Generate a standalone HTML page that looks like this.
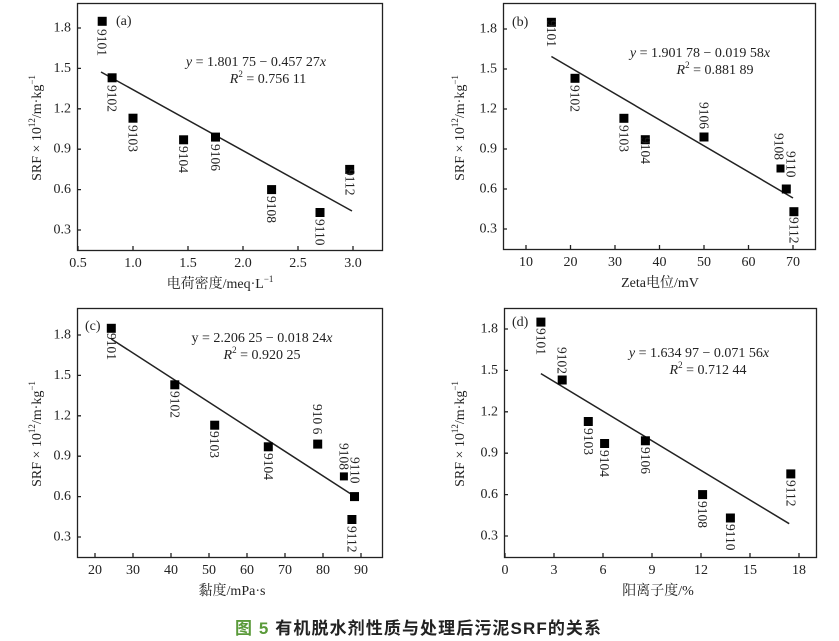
<!DOCTYPE html>
<html><head><meta charset="utf-8"><style>
html,body{margin:0;padding:0;background:#fff;width:839px;height:641px;overflow:hidden}
svg{display:block}
text{font-family:"Liberation Serif","Noto Serif CJK SC",serif;fill:#222}
.t{font-size:14px}
.l{font-size:13.5px}
.e{font-size:14px}
.ax{font-size:14px}
</style></head><body>
<svg width="839" height="641" viewBox="0 0 839 641" xmlns="http://www.w3.org/2000/svg">
<g stroke="#222" fill="none" stroke-width="1.3">
<rect x="77.5" y="3.5" width="305" height="247"/>
<rect x="503.5" y="3.5" width="312" height="246"/>
<rect x="77.5" y="308.5" width="305" height="249"/>
<rect x="504.5" y="308.5" width="312" height="249"/>
<path d="M78 250v-4M133 250v-4M188 250v-4M243 250v-4M298 250v-4M353 250v-4M77 28h4M77 68.4h4M77 108.8h4M77 149.2h4M77 189.6h4M77 230h4"/>
<path d="M526 249v-4M570.5 249v-4M615 249v-4M659.5 249v-4M704 249v-4M748.5 249v-4M793 249v-4M503 29h4M503 69h4M503 109h4M503 149h4M503 189h4M503 229h4"/>
<path d="M95 557v-4M133 557v-4M171 557v-4M209 557v-4M247 557v-4M285 557v-4M323 557v-4M361 557v-4M77 335h4M77 375.4h4M77 415.8h4M77 456.2h4M77 496.6h4M77 537h4"/>
<path d="M505 557v-4M554 557v-4M603 557v-4M652 557v-4M701 557v-4M750 557v-4M799 557v-4M504 329h4M504 370.4h4M504 411.8h4M504 453.2h4M504 494.6h4M504 536h4"/>
<path d="M101 72L352 211" stroke-width="1.5"/>
<path d="M551.4 56.5L793 198" stroke-width="1.5"/>
<path d="M111.3 339L354 496" stroke-width="1.5"/>
<path d="M540.9 373.6L789.2 523.7" stroke-width="1.5"/>
</g>
<g fill="#000">
<rect x="97.7" y="16.8" width="9" height="9"/><rect x="107.6" y="73.3" width="9" height="9"/><rect x="128.5" y="113.7" width="9" height="9"/><rect x="179.1" y="135.3" width="9" height="9"/><rect x="211" y="132.6" width="9" height="9"/><rect x="267.1" y="185.1" width="9" height="9"/><rect x="315.5" y="208" width="9" height="9"/><rect x="345.2" y="164.9" width="9" height="9"/>
<rect x="546.9" y="17.8" width="9" height="9"/><rect x="570.5" y="73.8" width="9" height="9"/><rect x="619.4" y="113.8" width="9" height="9"/><rect x="640.8" y="135.2" width="9" height="9"/><rect x="699.5" y="132.5" width="9" height="9"/><rect x="776.5" y="164.5" width="8" height="8"/><rect x="781.8" y="184.5" width="9" height="9"/><rect x="789.4" y="207.2" width="9" height="9"/>
<rect x="106.8" y="323.8" width="9" height="9"/><rect x="170.3" y="380.3" width="9" height="9"/><rect x="210.2" y="420.7" width="9" height="9"/><rect x="263.8" y="442.3" width="9" height="9"/><rect x="313.2" y="439.6" width="9" height="9"/><rect x="339.9" y="472.4" width="8" height="8"/><rect x="350" y="492.1" width="9" height="9"/><rect x="347.4" y="515" width="9" height="9"/>
<rect x="536.4" y="317.6" width="9" height="9"/><rect x="557.7" y="375.5" width="9" height="9"/><rect x="583.8" y="417" width="9" height="9"/><rect x="600.1" y="439" width="9" height="9"/><rect x="640.9" y="436.3" width="9" height="9"/><rect x="698.1" y="490.1" width="9" height="9"/><rect x="725.9" y="513.5" width="9" height="9"/><rect x="786.3" y="469.4" width="9" height="9"/>
</g>
<g class="l" dominant-baseline="central">
<text transform="translate(102,29) rotate(90)">9101</text>
<text transform="translate(112,85) rotate(90)">9102</text>
<text transform="translate(133,125) rotate(90)">9103</text>
<text transform="translate(183.6,146) rotate(90)">9104</text>
<text transform="translate(215.5,144) rotate(90)">9106</text>
<text transform="translate(271.6,196) rotate(90)">9108</text>
<text transform="translate(320,219) rotate(90)">9110</text>
<text transform="translate(350,169) rotate(90)">9112</text>
<text transform="translate(551.4,20) rotate(90)">9101</text>
<text transform="translate(575,85) rotate(90)">9102</text>
<text transform="translate(624,125) rotate(90)">9103</text>
<text transform="translate(645.3,137) rotate(90)">9104</text>
<text transform="translate(704,102) rotate(90)">9106</text>
<text transform="translate(779,133) rotate(90)">9108</text>
<text transform="translate(791,151) rotate(90)">9110</text>
<text transform="translate(794,217) rotate(90)">9112</text>
<text transform="translate(111.3,333) rotate(90)">9101</text>
<text transform="translate(174.8,391) rotate(90)">9102</text>
<text transform="translate(214.7,431) rotate(90)">9103</text>
<text transform="translate(268.3,453) rotate(90)">9104</text>
<text transform="translate(317.7,404) rotate(90)">910 6</text>
<text transform="translate(343.9,443) rotate(90)">9108</text>
<text transform="translate(355,457) rotate(90)">9110</text>
<text transform="translate(352,526) rotate(90)">9112</text>
<text transform="translate(540.9,328) rotate(90)">9101</text>
<text transform="translate(562.2,347) rotate(90)">9102</text>
<text transform="translate(588.3,428) rotate(90)">9103</text>
<text transform="translate(604.6,450) rotate(90)">9104</text>
<text transform="translate(645.4,447) rotate(90)">9106</text>
<text transform="translate(702.6,501) rotate(90)">9108</text>
<text transform="translate(730.4,524) rotate(90)">9110</text>
<text transform="translate(790.8,480) rotate(90)">9112</text>
</g>
<g class="t">
<text x="116" y="25">(a)</text><text x="512" y="26">(b)</text><text x="85" y="330">(c)</text><text x="512" y="326">(d)</text>
</g>
<g class="e" text-anchor="middle">
<text x="256" y="66"><tspan font-style="italic">y</tspan> = 1.801 75 −  0.457 27<tspan font-style="italic">x</tspan></text>
<text x="268" y="83"><tspan font-style="italic">R</tspan><tspan font-size="9" dy="-6">2</tspan><tspan dy="6"> = 0.756 11</tspan></text>
<text x="700" y="57"><tspan font-style="italic">y</tspan> = 1.901 78 − 0.019 58<tspan font-style="italic">x</tspan></text>
<text x="715" y="74"><tspan font-style="italic">R</tspan><tspan font-size="9" dy="-6">2</tspan><tspan dy="6"> = 0.881 89</tspan></text>
<text x="262" y="342">y = 2.206 25 −  0.018 24<tspan font-style="italic">x</tspan></text>
<text x="262" y="359"><tspan font-style="italic">R</tspan><tspan font-size="9" dy="-6">2</tspan><tspan dy="6"> = 0.920 25</tspan></text>
<text x="699" y="357"><tspan font-style="italic">y</tspan> = 1.634 97 − 0.071 56<tspan font-style="italic">x</tspan></text>
<text x="708" y="374"><tspan font-style="italic">R</tspan><tspan font-size="9" dy="-6">2</tspan><tspan dy="6"> = 0.712 44</tspan></text>
</g>
<g class="t" text-anchor="middle">
<text x="78" y="267">0.5</text><text x="133" y="267">1.0</text><text x="188" y="267">1.5</text><text x="243" y="267">2.0</text><text x="298" y="267">2.5</text><text x="353" y="267">3.0</text>
<text x="526" y="266">10</text><text x="570.5" y="266">20</text><text x="615" y="266">30</text><text x="659.5" y="266">40</text><text x="704" y="266">50</text><text x="748.5" y="266">60</text><text x="793" y="266">70</text>
<text x="95" y="574">20</text><text x="133" y="574">30</text><text x="171" y="574">40</text><text x="209" y="574">50</text><text x="247" y="574">60</text><text x="285" y="574">70</text><text x="323" y="574">80</text><text x="361" y="574">90</text>
<text x="505" y="574">0</text><text x="554" y="574">3</text><text x="603" y="574">6</text><text x="652" y="574">9</text><text x="701" y="574">12</text><text x="750" y="574">15</text><text x="799" y="574">18</text>
</g>
<g class="t" text-anchor="end" dominant-baseline="central">
<text x="71" y="28">1.8</text><text x="71" y="68.4">1.5</text><text x="71" y="108.8">1.2</text><text x="71" y="149.2">0.9</text><text x="71" y="189.6">0.6</text><text x="71" y="230">0.3</text>
<text x="497" y="29">1.8</text><text x="497" y="69">1.5</text><text x="497" y="109">1.2</text><text x="497" y="149">0.9</text><text x="497" y="189">0.6</text><text x="497" y="229">0.3</text>
<text x="71" y="335">1.8</text><text x="71" y="375.4">1.5</text><text x="71" y="415.8">1.2</text><text x="71" y="456.2">0.9</text><text x="71" y="496.6">0.6</text><text x="71" y="537">0.3</text>
<text x="498" y="329">1.8</text><text x="498" y="370.4">1.5</text><text x="498" y="411.8">1.2</text><text x="498" y="453.2">0.9</text><text x="498" y="494.6">0.6</text><text x="498" y="536">0.3</text>
</g>
<g class="ax" text-anchor="middle">
<text x="220" y="288">电荷密度/meq·L<tspan font-size="9" dy="-6">−1</tspan></text>
<text x="660" y="287">Zeta电位/mV</text>
<text x="232" y="595">黏度/mPa·s</text>
<text x="658" y="595">阳离子度/%</text>
<text transform="translate(41,128) rotate(-90)">SRF × 10<tspan font-size="9" dy="-6">12</tspan><tspan dy="6">/m·kg</tspan><tspan font-size="9" dy="-6">−1</tspan></text>
<text transform="translate(464,128) rotate(-90)">SRF × 10<tspan font-size="9" dy="-6">12</tspan><tspan dy="6">/m·kg</tspan><tspan font-size="9" dy="-6">−1</tspan></text>
<text transform="translate(41,434) rotate(-90)">SRF × 10<tspan font-size="9" dy="-6">12</tspan><tspan dy="6">/m·kg</tspan><tspan font-size="9" dy="-6">−1</tspan></text>
<text transform="translate(464,434) rotate(-90)">SRF × 10<tspan font-size="9" dy="-6">12</tspan><tspan dy="6">/m·kg</tspan><tspan font-size="9" dy="-6">−1</tspan></text>
</g>
<text x="418" y="634" text-anchor="middle" style="font-family:'Liberation Sans','Noto Sans CJK SC',sans-serif;font-size:17px;font-weight:bold" textLength="366"><tspan fill="#5a9a3a">图 5 </tspan><tspan fill="#222">有机脱水剂性质与处理后污泥SRF的关系</tspan></text>
</svg>
</body></html>
